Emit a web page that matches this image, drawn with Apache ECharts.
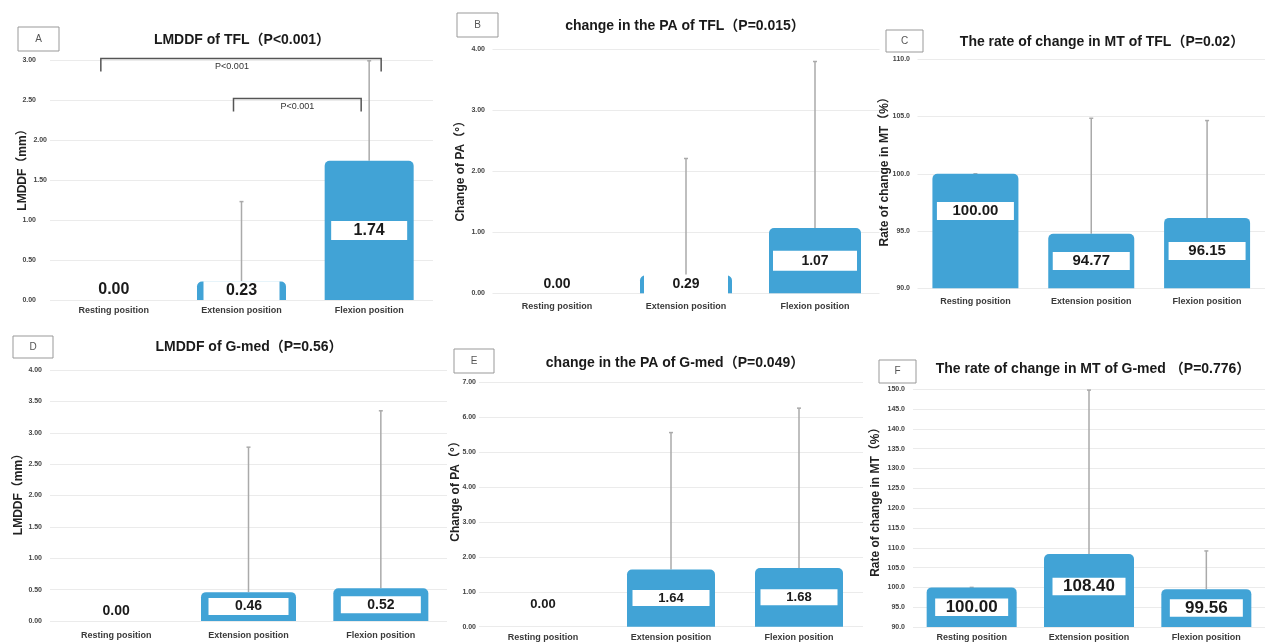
<!DOCTYPE html>
<html><head><meta charset="utf-8">
<script src="https://cdn.jsdelivr.net/npm/echarts@6/dist/echarts.min.js"></script>
<style>html,body{margin:0;padding:0;background:#fff}#c{width:1265px;height:642px}</style>
</head><body><div id="c"></div>
<script>
// ---------------- data ----------------
const categories = ['Resting position', 'Extension position', 'Flexion position'];

const lmddfTFL        = [0.00, 0.23, 1.74];
const lmddfTFLErrTop  = [0.00, 1.23, 2.99];
const paTFL           = [0.00, 0.29, 1.07];
const paTFLErrTop     = [0.00, 2.21, 3.80];
const mtTFL           = [100.00, 94.77, 96.15];
const mtTFLErrTop     = [100.00, 104.85, 104.65];
const lmddfGmed       = [0.00, 0.46, 0.52];
const lmddfGmedErrTop = [0.00, 2.77, 3.35];
const paGmed          = [0.00, 1.64, 1.68];
const paGmedErrTop    = [0.00, 5.56, 6.26];
const mtGmed          = [100.00, 108.40, 99.56];
const mtGmedErrTop    = [100.00, 149.80, 109.20];

const panelLetters = ['A', 'B', 'C', 'D', 'E', 'F'];
const panelTitles = [
  'LMDDF of TFL（P<0.001）',
  'change in the PA of TFL（P=0.015）',
  'The rate of change in MT of TFL（P=0.02）',
  'LMDDF of G-med（P=0.56）',
  'change in the PA of G-med（P=0.049）',
  'The rate of change in MT of G-med （P=0.776）'
];
const yAxisNames = ['LMDDF（mm）', 'Change of PA（°）', 'Rate of change in MT（%）',
                    'LMDDF（mm）', 'Change of PA（°）', 'Rate of change in MT（%）'];
const yMins      = [0, 0, 90, 0, 0, 90];
const yMaxs      = [3, 4, 110, 4, 7, 150];
const yIntervals = [0.5, 1, 5, 0.5, 1, 5];
const yDecimals  = [2, 2, 1, 2, 2, 1];

// significance brackets (panel A)
const bracketFrom  = [0, 1];
const bracketTo    = [2, 2];
const bracketLevel = [3.02, 2.52];
const bracketText  = ['P<0.001', 'P<0.001'];

const panelValues = [lmddfTFL, paTFL, mtTFL, lmddfGmed, paGmed, mtGmed];
const panelErrTop = [lmddfTFLErrTop, paTFLErrTop, mtTFLErrTop, lmddfGmedErrTop, paGmedErrTop, mtGmedErrTop];

// ---------------- layout / style ----------------
const layouts = [
  {grid:{left:50, top:60, width:383, height:240}, barW:89, font:16, boxW:76, boxH:19, zeroDist:10, nameGap:21, nameUp:13, yLabMargin:3, catMargin:6,
   title:[242,40], letter:[18,27,41,24], shift:[0,0,0], labPadTicks:[0, 0.5, 1, 2.5, 3], labPad:11},
  {grid:{left:492.5, top:49.3, width:387, height:244}, barW:92, font:14, boxW:84, boxH:20, zeroDist:9, nameGap:26, nameUp:3, yLabMargin:7.5, catMargin:9,
   title:[685,25.7], letter:[457,13,41,24], shift:[0,0,0]},
  {grid:{left:917.5, top:59.3, width:369, height:229}, barW:86, font:15, boxW:77, boxH:18, zeroDist:9, nameGap:27, nameUp:5, yLabMargin:7.5, catMargin:9,
   title:[1102,41.7], letter:[886,30,37,22], shift:[-20,0,-2]},
  {grid:{left:50, top:370, width:397, height:251}, barW:95, font:14, boxW:80, boxH:17, zeroDist:10, nameGap:25.5, nameUp:4, yLabMargin:8, catMargin:10,
   title:[249,346.7], letter:[13,336,40,22], shift:[0,0,0]},
  {grid:{left:479, top:382.3, width:384, height:244.4}, barW:88, font:13, boxW:77, boxH:16, zeroDist:22, nameGap:17.5, nameUp:16, yLabMargin:3, catMargin:6,
   title:[675,363.3], letter:[454,349,40,24], shift:[0,0,0]},
  {grid:{left:913, top:389.3, width:378, height:238}, barW:90, font:17, boxW:73, boxH:17.5, zeroDist:10, nameGap:31.5, nameUp:9, yLabMargin:8, catMargin:6,
   title:[1093,369.3], letter:[879,360,37,23], shift:[0,-4,0]}
];

const BLUE = '#41a3d6';
const FONT = '"Liberation Sans", "Noto Sans CJK JP", sans-serif';

function renderErr(params, api) {
  const x = api.value(0), v = api.value(1), u = api.value(2);
  if (v === 0 && u === 0) return null;
  const p0 = api.coord([x, v]);
  const p1 = api.coord([x, u]);
  return {type: 'group', children: [
    {type: 'line', shape: {x1: p0[0], y1: p0[1], x2: p1[0], y2: p1[1]}, style: {stroke: '#aaaaaa', lineWidth: 1.5}},
    {type: 'line', shape: {x1: p1[0] - 2, y1: p1[1], x2: p1[0] + 2, y2: p1[1]}, style: {stroke: '#aaaaaa', lineWidth: 1.5}}
  ]};
}

const bracketDx = [[-13, 12, -9], [-8, -8, 0]];
function renderBracket(params, api) {
  const i = params.dataIndex;
  const a = api.coord([api.value(0), api.value(2)]);
  const b = api.coord([api.value(1), api.value(2)]);
  const x0 = a[0] + bracketDx[i][0], x1 = b[0] + bracketDx[i][1], y = a[1];
  return {type: 'group', children: [
    {type: 'polyline', shape: {points: [[x0, y + 13], [x0, y], [x1, y], [x1, y + 13]]},
     style: {stroke: '#555', lineWidth: 1.5, fill: null}},
    {type: 'text', x: (x0 + x1) / 2 + bracketDx[i][2], y: y + 8,
     style: {text: bracketText[i], align: 'center', verticalAlign: 'middle', font: '9px ' + FONT, fill: '#333'}}
  ]};
}

const grids = [], xAxes = [], yAxes = [], series = [], graphics = [];
layouts.forEach((L, i) => {
  grids.push(Object.assign({containLabel: false}, L.grid));
  xAxes.push({
    type: 'category', gridIndex: i, data: categories,
    axisLine: {show: false}, axisTick: {show: false},
    axisLabel: {interval: 0, margin: L.catMargin, fontSize: 9, fontWeight: 'bold', color: '#3a3a3a', fontFamily: FONT}
  });
  yAxes.push({
    type: 'value', gridIndex: i, min: yMins[i], max: yMaxs[i], interval: yIntervals[i],
    name: yAxisNames[i], nameLocation: 'middle', nameGap: L.nameGap, nameRotate: 90, nameMoveOverlap: false,
    nameTextStyle: {fontSize: 12, fontWeight: 'bold', color: '#222', fontFamily: FONT, padding: [0, 0, 0, 2 * L.nameUp]},
    axisLine: {show: false}, axisTick: {show: false},
    axisLabel: {fontSize: 7, color: '#444', fontWeight: 'bold', margin: L.yLabMargin, fontFamily: FONT,
                formatter: v => {
                  const s = v.toFixed(yDecimals[i]);
                  if (L.labPadTicks && L.labPadTicks.some(t => Math.abs(t - v) < 1e-9)) return '{p|' + s + '}';
                  return s;
                },
                rich: {p: {fontSize: 7, color: '#444', fontWeight: 'bold', fontFamily: FONT, padding: [0, L.labPad || 0, 0, 0]}}},
    splitLine: {lineStyle: {color: '#ebebeb', width: 1}}
  });
  const vals = panelValues[i];
  series.push({
    type: 'bar', xAxisIndex: i, yAxisIndex: i, barWidth: L.barW, z: 3,
    itemStyle: {color: BLUE, borderRadius: [5, 5, 0, 0]},
    label: {
      show: true, position: 'inside', formatter: p => Number(p.value).toFixed(2),
      backgroundColor: '#fff', color: '#1a1a1a', fontSize: L.font, fontWeight: 'bold', fontFamily: FONT,
      width: L.boxW, lineHeight: L.boxH, align: 'center', verticalAlign: 'middle', padding: 0
    },
    data: vals.map((v, j) => v === 0
      ? {value: v, label: {position: 'top', distance: L.zeroDist, backgroundColor: 'transparent'}}
      : {value: v, label: {offset: [0, L.shift[j]]}})
  });
  series.push({
    type: 'custom', xAxisIndex: i, yAxisIndex: i, z: 2, renderItem: renderErr,
    encode: {x: 0, y: 1},
    data: vals.map((v, j) => [j, v, panelErrTop[i][j]])
  });
  graphics.push({type: 'text', x: L.title[0], y: L.title[1],
    style: {text: panelTitles[i], align: 'center', verticalAlign: 'middle', font: 'bold 14px ' + FONT, fill: '#1a1a1a'}});
  const b = L.letter;
  graphics.push({type: 'rect', shape: {x: b[0], y: b[1], width: b[2], height: b[3]},
    style: {fill: '#fff', stroke: '#999', lineWidth: 1}});
  graphics.push({type: 'text', x: b[0] + b[2] / 2, y: b[1] + b[3] / 2,
    style: {text: panelLetters[i], align: 'center', verticalAlign: 'middle', font: '10px ' + FONT, fill: '#555'}});
});

series.push({
  type: 'custom', xAxisIndex: 0, yAxisIndex: 0, z: 4, renderItem: renderBracket,
  encode: {x: 0, y: 2},
  data: bracketFrom.map((f, k) => [f, bracketTo[k], bracketLevel[k]])
});

const chart = echarts.init(document.getElementById('c'), null, {renderer: 'canvas'});
chart.setOption({
  animation: false,
  backgroundColor: '#fff',
  grid: grids, xAxis: xAxes, yAxis: yAxes, series: series, graphic: graphics
});
</script></body></html>
